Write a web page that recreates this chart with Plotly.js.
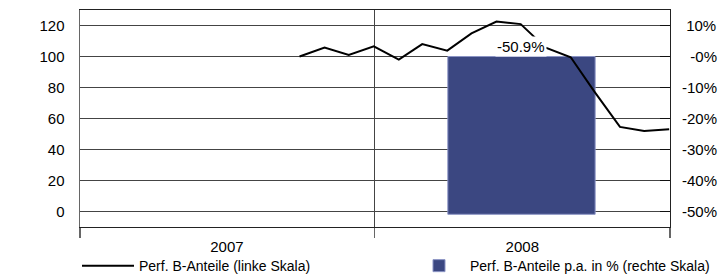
<!DOCTYPE html>
<html><head><meta charset="utf-8">
<script src="https://cdn.plot.ly/plotly-3.0.1.min.js"></script>
<style>html,body{margin:0;padding:0;background:#fff;overflow:hidden}#chart{width:718px;height:276px}</style>
</head><body><div id="chart"></div>
<script>
// ---- data ----
const lineDates = ['2007-09-30','2007-10-31','2007-11-30','2007-12-31','2008-01-31','2008-02-29',
  '2008-03-31','2008-04-30','2008-05-31','2008-06-30','2008-07-31','2008-08-31','2008-09-30',
  '2008-10-31','2008-11-30','2008-12-31'];
const lineValues = [100, 105.7, 101, 106.5, 98, 108, 103.8, 114.9, 122.5, 120.9, 105.7, 99.5, 76.9, 54.6, 51.9, 53];
const barDates = ['2008-07-01'];
const barValues = [-50.9];
const yearTickDates = ['2007-07-02','2008-07-02'];
const yearLabels = ['2007','2008'];
const leftTicks = [0,20,40,60,80,100,120];
const rightTicks = [-50,-40,-30,-20,-10,0,10];
const rightTickLabels = ['-50%','-40%','-30%','-20%','-10%','-0%','10%'];
const seriesNames = ['Perf. B-Anteile (linke Skala)','Perf. B-Anteile p.a. in % (rechte Skala)'];

const FONT = 'Liberation Sans, Arial, sans-serif';
const HALF_YEAR_MS = 182.5 * 24 * 3600 * 1000;

// right-align the right-hand tick labels by padding with figure/no-break spaces
const rightTickText = rightTickLabels.map(s => {
  const hasMinus = s.startsWith('-');
  const digits = s.replace(/[-%]/g, '').length;
  let pad = '';
  for (let i = digits; i < 2; i++) pad += '\u2007';
  if (!hasMinus) pad += '\u00a0';
  return pad + s;
});

const traces = [
  {type:'bar', x: barDates, y: barValues, yaxis:'y', name: seriesNames[1], legend:'legend2',
   width: [HALF_YEAR_MS], marker:{color:'#3b4781', line:{color:'#8a93c4', width:1}}, hoverinfo:'skip'},
  {type:'scatter', mode:'lines', x: lineDates, y: lineValues, yaxis:'y2', name: seriesNames[0], legend:'legend',
   line:{color:'#000', width:2}, hoverinfo:'skip'}
];

const legendCommon = {orientation:'h', xref:'container', yref:'container', xanchor:'left', yanchor:'top',
  font:{size:14, family:FONT}, itemwidth:52, bgcolor:'rgba(0,0,0,0)'};

const layout = {
  width:718, height:276,
  margin:{l:80, r:48, t:10, b:49},
  paper_bgcolor:'#fff', plot_bgcolor:'#fff',
  font:{family:FONT, size:15, color:'#000'},
  showlegend:true,
  legend:Object.assign({}, legendCommon, {x:77/718, y:0.094}),
  legend2:Object.assign({}, legendCommon, {x:408/718, y:0.094}),
  xaxis:{type:'date', range:['2007-01-01','2009-01-01'],
    tickmode:'array', tickvals: yearTickDates, ticktext: yearLabels, ticks:'', showgrid:false,
    ticklabelstandoff:6,
    showline:true, mirror:true, linecolor:'#222', linewidth:1,
    minor:{tick0:'2007-01-01', dtick:'M12', ticks:'outside', ticklen:10, tickcolor:'#666', tickwidth:1.5,
      showgrid:true, gridcolor:'#444', gridwidth:1},
    zeroline:false, fixedrange:true},
  yaxis:{range:[-55,15], side:'right', anchor:'x',
    tickmode:'array', tickvals: rightTicks, ticktext: rightTickText, ticks:'inside', ticklen:10, tickcolor:'#111',
    showline:true, linecolor:'#222', linewidth:1,
    showgrid:false, zeroline:false, ticklabelstandoff:8, fixedrange:true},
  yaxis2:{range:[-10,130], overlaying:'y', side:'left', anchor:'x',
    tickmode:'array', tickvals: leftTicks, ticks:'', ticklen:0, tickcolor:'rgba(0,0,0,0)',
    showline:true, linecolor:'#666', linewidth:1.5,
    showgrid:true, gridcolor:'#444', gridwidth:1, zeroline:false, ticklabelstandoff:11, fixedrange:true},
  annotations:[{x: barDates[0], y: 0, xref:'x', yref:'y', yanchor:'bottom', xanchor:'center',
    text: barValues[0].toFixed(1) + '%', showarrow:false, bgcolor:'#fff', font:{size:15, family:FONT}, borderpad:1}]
};

Plotly.newPlot('chart', traces, layout, {staticPlot:true, displayModeBar:false});
</script></body></html>
